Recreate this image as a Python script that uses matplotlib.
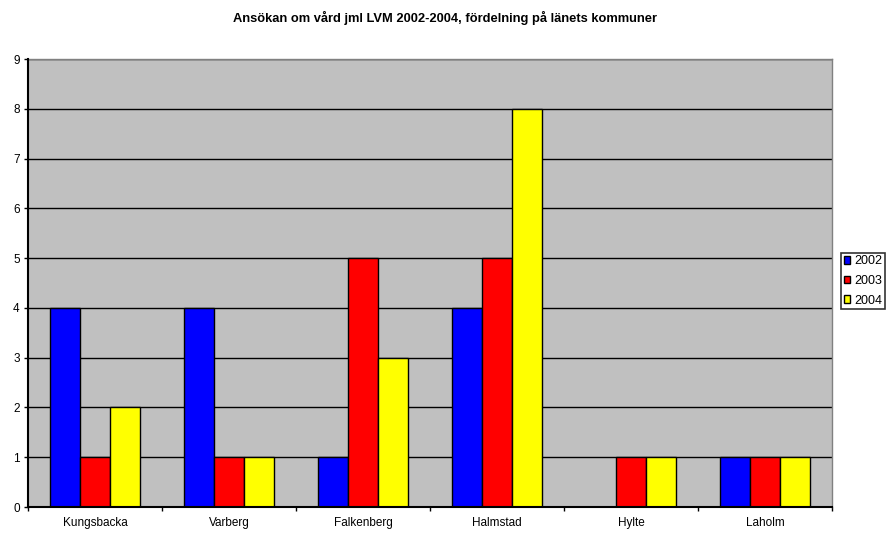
import matplotlib
matplotlib.use("Agg")
import matplotlib.pyplot as plt
import numpy as np
from matplotlib.patches import Patch

plt.rcParams['font.family'] = ['Liberation Sans', 'DejaVu Sans']

categories = ["Kungsbacka", "Varberg", "Falkenberg", "Halmstad", "Hylte", "Laholm"]
series_names = ["2002", "2003", "2004"]
v2002 = [4, 4, 1, 4, 0, 1]
v2003 = [1, 1, 5, 5, 1, 1]
v2004 = [2, 1, 3, 8, 1, 1]
colors = ["#0000FF", "#FF0000", "#FFFF00"]

fig = plt.figure(figsize=(8.9, 5.33), dpi=100)
ax = fig.add_axes([28/890, 26/533, (832-28)/890, (507-59)/533])
ax.set_facecolor("#C0C0C0")

x = np.arange(len(categories))
w = 0.222
for i, (vals, c) in enumerate(zip([v2002, v2003, v2004], colors)):
    ax.bar(x + (i - 1) * w, vals, width=w, color=c, edgecolor="black", linewidth=1, zorder=3)

ax.set_xlim(-0.5, len(categories) - 0.5)
ax.set_ylim(0, 9)
ax.set_yticks(range(0, 10))
ax.yaxis.grid(True, color="black", linewidth=1, zorder=1)
ax.set_axisbelow(True)
ax.set_xticks(x)
ax.set_xticklabels(categories, fontsize=8.5)
ax.tick_params(axis='x', length=0, pad=7)
ax.set_xticks(np.arange(-0.5, len(categories)), minor=True)
ax.tick_params(axis='x', which='minor', length=3, width=1, direction='out')
ax.tick_params(axis='y', labelsize=8.5, length=3, width=1, direction='out', pad=3)
for s in ['top', 'right']:
    ax.spines[s].set_color('#808080')
    ax.spines[s].set_linewidth(1)
for s in ['left', 'bottom']:
    ax.spines[s].set_color('black')
    ax.spines[s].set_linewidth(1.5)
    ax.spines[s].set_zorder(4)

fig.text(0.5, 1 - 18/533, "Ansökan om vård jml LVM 2002-2004, fördelning på länets kommuner",
         ha='center', va='center', fontsize=9.25, fontweight='bold')

handles = [Patch(facecolor=c, edgecolor='black', label=n) for c, n in zip(colors, series_names)]
leg = fig.legend(handles=handles, loc='center left', bbox_to_anchor=(841/890, 1 - 281/533),
                 fontsize=9, frameon=True, fancybox=False, edgecolor='black',
                 handlelength=0.55, handleheight=0.55, handletextpad=0.35, borderpad=0.2,
                 labelspacing=0.6, borderaxespad=0)
leg.get_frame().set_linewidth(1.2)

fig.savefig("out.png", dpi=100)
